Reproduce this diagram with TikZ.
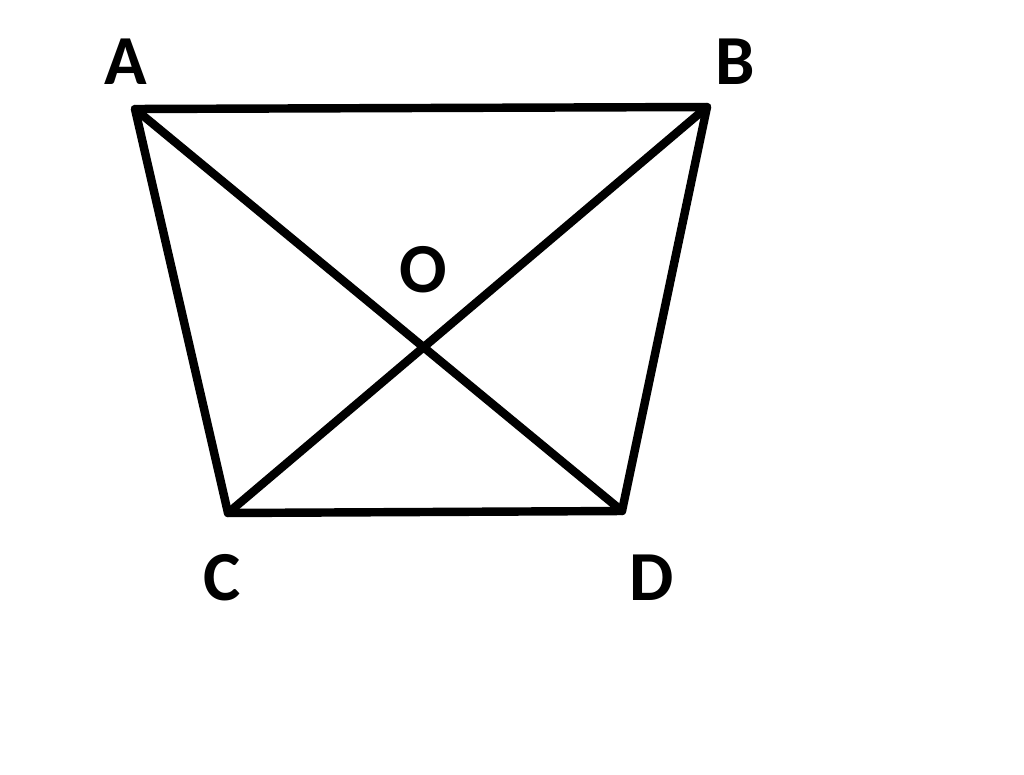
\documentclass[tikz,border=0pt]{standalone}
\usepackage{fontspec}
\setmainfont{Carlito}
\usetikzlibrary{positioning}

\begin{document}
\begin{tikzpicture}[x=0.02cm,y=-0.02cm,
    edge/.style={line width=4.8pt,line cap=round,line join=round},
    vlabel/.style={font=\fontsize{40}{40}\selectfont\bfseries,inner sep=0pt}]
    \useasboundingbox (0,0) rectangle (1024,774);
    % corners of the quadrilateral
    \coordinate (A) at (135,109);
    \coordinate (B) at (707,107);
    \coordinate (C) at (228,513);
    \coordinate (D) at (622,511);
    \draw[edge] (A) -- (B) -- (D) -- (C) -- cycle;
    \draw[edge] (A) -- (D);
    \draw[edge] (B) -- (C);
    % labels
    \node[vlabel] (LA) at (126,62) {A};
    \node[vlabel] (LB) at (735,62) {B};
    \node[vlabel] (LC) at (222,578) {C};
    \node[vlabel] (LD) at (652,578) {D};
    \node[vlabel] (LO) at (423,270) {O};
\end{tikzpicture}
\end{document}
